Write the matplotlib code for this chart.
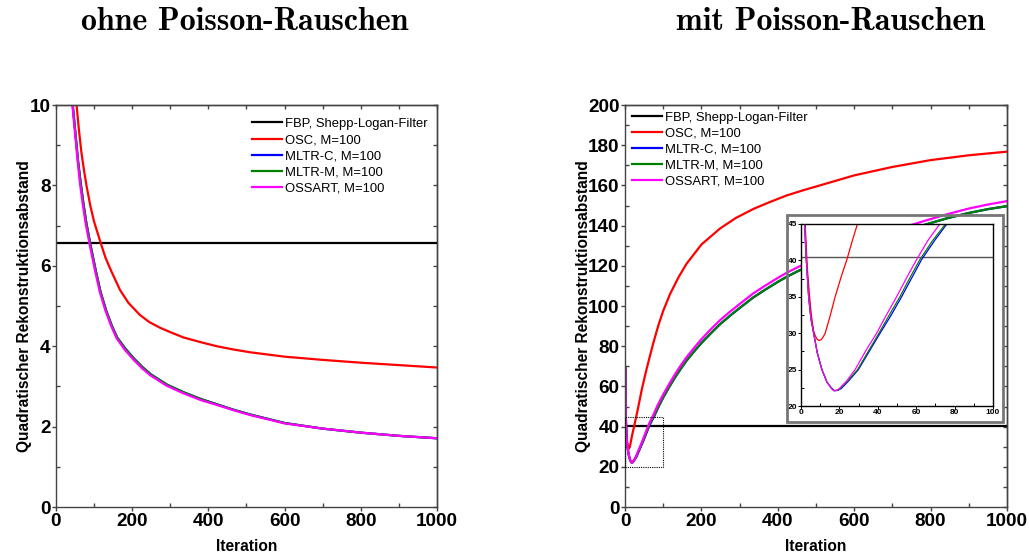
import matplotlib
matplotlib.use("Agg")
import matplotlib.pyplot as plt
from matplotlib.patches import Rectangle
from matplotlib.ticker import MultipleLocator

plt.rcParams['font.family'] = ['Liberation Sans', 'DejaVu Sans']

labels = ['FBP, Shepp-Logan-Filter', 'OSC, M=100', 'MLTR-C, M=100', 'MLTR-M, M=100', 'OSSART, M=100']
colors = ['black', '#ff0000', '#0000ff', '#008000', '#ff00ff']

# ohne Poisson-Rauschen
fbp_left = 6.58
osc_left_it = [54, 60, 67, 74, 80, 90, 100, 117, 130, 146, 168, 190, 220, 245, 273, 300, 334,
               380, 422, 465, 509, 600, 700, 800, 900, 1000]
osc_left = [10.0, 9.4, 8.8, 8.35, 8.0, 7.5, 7.1, 6.58, 6.2, 5.85, 5.40, 5.08, 4.78, 4.6, 4.46, 4.35, 4.22,
            4.1, 4.0, 3.92, 3.85, 3.74, 3.66, 3.59, 3.53, 3.47]
ossart_left_it = [43, 50, 57, 63, 70, 78, 89, 102, 115, 130, 145, 159, 180, 203, 225, 247, 290, 334,
                  380, 422, 465, 509, 600, 700, 800, 900, 1000]
ossart_left = [10.0, 9.3, 8.6, 8.05, 7.55, 7.05, 6.5, 5.9, 5.35, 4.88, 4.5, 4.2, 3.92, 3.67, 3.46, 3.28,
               3.02, 2.83, 2.66, 2.54, 2.41, 2.29, 2.08, 1.95, 1.85, 1.77, 1.71]
mltr_left_it = [44, 51, 58, 65, 72, 80, 91, 104, 117, 132, 147, 161, 182, 205, 227, 249, 292, 336,
                382, 424, 466, 510, 600, 700, 800, 900, 1000]
mltr_left = [10.0, 9.3, 8.6, 8.05, 7.55, 7.05, 6.5, 5.9, 5.35, 4.88, 4.5, 4.21, 3.94, 3.69, 3.48, 3.30,
             3.04, 2.85, 2.68, 2.55, 2.42, 2.30, 2.09, 1.95, 1.85, 1.77, 1.71]

# mit Poisson-Rauschen
fbp_right = 40.5
osc_right_it = [1, 1.5, 2.2, 3.3, 4.5, 5.5, 6.6, 7.5, 8.5, 9.5, 10.5, 11.5, 12.6, 15, 17.8, 21, 23.9,
                26.5, 29.4, 35, 43.6, 55, 65, 74, 87, 100, 118, 140, 161, 200, 249, 290, 336, 380,
                423, 470, 510, 600, 700, 800, 900, 1000]
osc_right = [69, 57, 45, 39, 35, 32.3, 30.3, 29.6, 29.15, 29.0, 29.1, 29.45, 30, 32.2, 35, 37.8, 40.1,
             42.5, 45, 50, 58.2, 67.5, 75, 81.5, 90.2, 97.6, 106, 114.3, 121, 130.6, 138.6, 143.8, 148.3,
             151.8, 155, 157.8, 160, 165, 169.2, 172.6, 175, 176.8]
ossart_right_it = [1, 1.5, 1.9, 2.8, 4.0, 5.2, 6.6, 8.5, 10.9, 13.5, 15.5, 17, 18.5, 20, 24, 28.2, 34,
                   39.4, 44.5, 49.8, 55, 60.2, 66, 72.3, 85, 100, 115, 130, 145, 161, 180, 200, 225, 249,
                   275, 300, 336, 370, 400, 423, 454, 500, 550, 600, 650, 700, 737, 790, 842, 900, 950,
                   1000]
ossart_right = [69, 55, 45, 40, 35, 32, 30, 27.3, 25, 23.3, 22.5, 22.1, 22.15, 22.4, 23.5, 25, 27.7,
                30, 32.5, 35, 37.6, 40.1, 42.7, 45, 50.5, 56, 61, 65.8, 70.2, 74.5, 79, 83.5, 88.5, 93,
                97.2, 101, 106.3, 110.5, 114, 116.5, 119.5, 123.3, 127.2, 130.8, 134.2, 137.3, 139.6,
                142.7, 145.6, 148.5, 150.5, 152.2]
mltrc_right_it = [1, 1.5, 1.9, 2.8, 4.0, 5.2, 6.6, 8.5, 10.9, 13.5, 15.8, 17.5, 19.2, 21, 25, 29.9, 36,
                  41.2, 47, 52.4, 57.5, 62.8, 69.5, 76, 88, 100, 115, 130, 145, 161, 180, 200, 225, 249,
                  275, 300, 336, 370, 400, 423, 454, 500, 550, 600, 650, 700, 737, 790, 842, 900, 950,
                  1000]
mltrc_right = [69, 55, 45, 40, 35, 32, 30, 27.3, 25, 23.3, 22.5, 22.1, 22.15, 22.4, 23.5, 25, 27.7,
               30, 32.5, 35, 37.5, 40.1, 42.7, 45, 50, 54.5, 59.5, 64.2, 68.5, 72.8, 77.2, 81.6, 86.5,
               91, 95.2, 99, 104.3, 108.5, 112, 114.5, 117.5, 121.3, 125.2, 128.8, 132.2, 135.3, 137.6,
               140.7, 143.6, 146.3, 148.2, 149.7]
mltrm_right_it = [1, 1.5, 1.9, 2.8, 4.0, 5.2, 6.6, 8.5, 10.9, 13.5, 15.7, 17.3, 19, 20.5, 24.5, 29.5,
                  35.5, 40.6, 46, 51.5, 56.5, 61.9, 68.5, 75.3, 88, 100, 115, 130, 145, 161, 180, 200,
                  225, 249, 275, 300, 336, 370, 400, 423, 454, 500, 550, 600, 650, 700, 737, 790, 842,
                  900, 950, 1000]
mltrm_right = [69, 55, 45, 40, 35, 32, 30, 27.3, 25, 23.3, 22.5, 22.1, 22.15, 22.4, 23.5, 25,
               27.7, 30, 32.5, 35, 37.5, 40.1, 42.7, 45, 50, 54.5, 59.5, 64.2, 68.5, 72.8, 77.2, 81.6,
               86.5, 91, 95.2, 99, 104.3, 108.5, 112, 114.5, 117.5, 121.3, 125.2, 128.8, 132.2, 135.3,
               137.6, 140.7, 143.6, 146.3, 148.2, 149.7]

titles = ['ohne Poisson-Rauschen', 'mit Poisson-Rauschen']
ylabel = 'Quadratischer Rekonstruktionsabstand'
xlabel = 'Iteration'

spine_col = '#444444'


def style_axes(ax, xmaj, xmin, ymaj, ymin, lsize, lw=1.0, length=3):
    ax.xaxis.set_major_locator(MultipleLocator(xmaj))
    ax.xaxis.set_minor_locator(MultipleLocator(xmin))
    ax.yaxis.set_major_locator(MultipleLocator(ymaj))
    ax.yaxis.set_minor_locator(MultipleLocator(ymin))
    ax.tick_params(which='both', direction='out', length=length, width=lw, colors=spine_col,
                   labelcolor='black', labelsize=lsize, pad=1)
    ax.tick_params(which='minor', direction='in', length=length)
    for lab in ax.get_xticklabels() + ax.get_yticklabels():
        lab.set_fontweight('bold')
    for s in ax.spines.values():
        s.set_color(spine_col)
        s.set_linewidth(lw)
    # inward ticks on top and right
    top = ax.secondary_xaxis('top')
    top.xaxis.set_major_locator(MultipleLocator(xmaj))
    top.xaxis.set_minor_locator(MultipleLocator(xmin))
    top.tick_params(which='both', direction='in', length=length, width=lw, colors=spine_col, labeltop=False)
    right = ax.secondary_yaxis('right')
    right.yaxis.set_major_locator(MultipleLocator(ymaj))
    right.yaxis.set_minor_locator(MultipleLocator(ymin))
    right.tick_params(which='both', direction='in', length=length, width=lw, colors=spine_col, labelright=False)
    for sa in (top, right):
        for s in sa.spines.values():
            s.set_color(spine_col)
            s.set_linewidth(lw)


fig = plt.figure(figsize=(10.29, 5.59), dpi=100)
ax1 = fig.add_axes([0.0544, 0.0930, 0.3703, 0.7191])
ax2 = fig.add_axes([0.6074, 0.0930, 0.3712, 0.7191])

lw = 1.6
ax1.axhline(fbp_left, color=colors[0], lw=lw, label=labels[0])
ax1.plot(osc_left_it, osc_left, color=colors[1], lw=lw, label=labels[1])
ax1.plot(mltr_left_it, mltr_left, color=colors[2], lw=lw, label=labels[2])
ax1.plot(mltr_left_it, mltr_left, color=colors[3], lw=lw, label=labels[3])
ax1.plot(ossart_left_it, ossart_left, color=colors[4], lw=lw, label=labels[4])
ax1.set_xlim(0, 1000)
ax1.set_ylim(0, 10)

ax2.axhline(fbp_right, color=colors[0], lw=lw, label=labels[0])
ax2.plot(osc_right_it, osc_right, color=colors[1], lw=lw, label=labels[1])
ax2.plot(mltrc_right_it, mltrc_right, color=colors[2], lw=lw, label=labels[2])
ax2.plot(mltrm_right_it, mltrm_right, color=colors[3], lw=lw, label=labels[3])
ax2.plot(ossart_right_it, ossart_right, color=colors[4], lw=lw, label=labels[4])
ax2.add_patch(Rectangle((0, 20), 100, 25, fill=False, ls=(0, (1, 1)), lw=0.8, color='black', zorder=5))
ax2.set_xlim(0, 1000)
ax2.set_ylim(0, 200)

for ax, yt in ((ax1, 10), (ax2, 200)):
    style_axes(ax, 200, 100, 2 if yt == 10 else 20, 1 if yt == 10 else 10, 13.6, lw=1.0)
    ax.set_xlabel(xlabel, fontsize=11.2, fontweight='bold', labelpad=7)
    ax.set_ylabel(ylabel, fontsize=11.2, fontweight='bold', labelpad=-2)

leg_kw = dict(frameon=False, fontsize=9.4, handlelength=2.3, handletextpad=0.25,
              labelspacing=0.3, borderpad=0, borderaxespad=0, loc='upper left')
ax1.legend(bbox_to_anchor=(0.514, 0.968), **leg_kw)
ax2.legend(bbox_to_anchor=(0.018, 0.984), **leg_kw)

# inset
ins = fig.add_axes([0.7784, 0.2737, 0.1866, 0.3256])
ins.axhline(fbp_right, color='#555555', lw=1.0)
ins.plot(osc_right_it, osc_right, color=colors[1], lw=0.9)
ins.plot(mltrc_right_it, mltrc_right, color=colors[2], lw=0.9)
ins.plot(mltrm_right_it, mltrm_right, color=colors[3], lw=0.9)
ins.plot(ossart_right_it, ossart_right, color=colors[4], lw=0.9)
ins.set_xlim(0, 100)
ins.set_ylim(20, 45)
ins.xaxis.set_major_locator(MultipleLocator(20))
ins.xaxis.set_minor_locator(MultipleLocator(10))
ins.yaxis.set_major_locator(MultipleLocator(5))
ins.yaxis.set_minor_locator(MultipleLocator(2.5))
ins.tick_params(which='both', direction='out', length=2, width=0.7, labelsize=6, pad=0.5)
ins.tick_params(which='minor', direction='in')
for lab in ins.get_xticklabels() + ins.get_yticklabels():
    lab.set_fontweight('bold')
for s in ins.spines.values():
    s.set_linewidth(1.0)

fig.patches.append(Rectangle((787 / 1029, 1 - 422 / 559), 216 / 1029, 207 / 559,
                             transform=fig.transFigure, fill=False, ec='#777777', lw=2.0))

fig.text(0.238, 0.962, titles[0], family='cmb10', fontsize=23, ha='center', va='center')
fig.text(0.807, 0.962, titles[1], family='cmb10', fontsize=23, ha='center', va='center')

fig.savefig('out.png', dpi=100)
